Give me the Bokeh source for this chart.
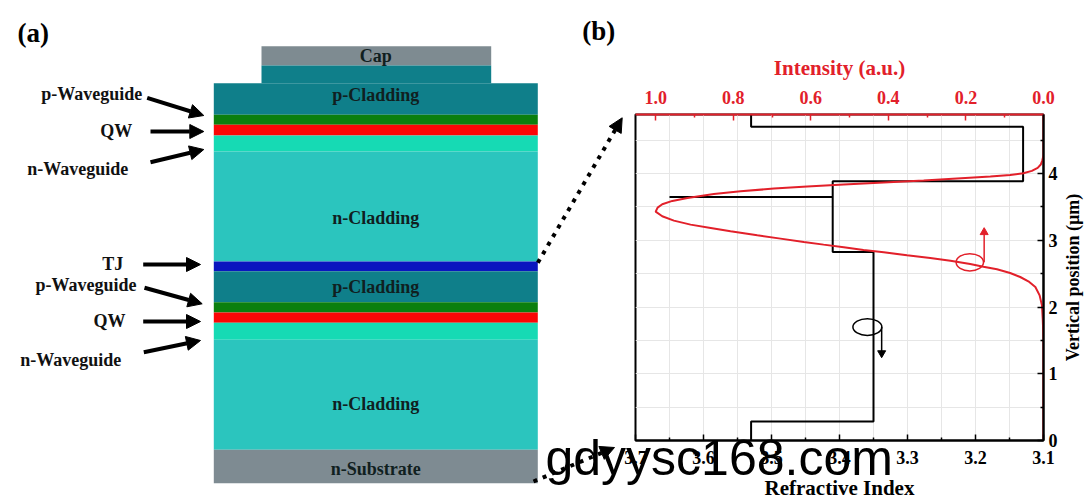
import math
from bokeh.plotting import figure
from bokeh.models import (Range1d, LinearAxis, FixedTicker, PrintfTickFormatter,
                          Arrow, NormalHead)
from bokeh.core.properties import value
from bokeh.embed import file_html
from bokeh.resources import INLINE

# ---------------- data: (a) layer stack, top to bottom ----------------
layer_names = ["Cap", "p-Cladding (ridge)", "p-Cladding", "p-Waveguide", "QW",
               "n-Waveguide", "n-Cladding", "TJ", "p-Cladding", "p-Waveguide",
               "QW", "n-Waveguide", "n-Cladding", "n-Substrate"]
layer_thickness = [19.3, 17.7, 31.6, 10.0, 10.7, 16.0, 110.0, 9.7, 31.0, 10.3,
                   10.3, 17.0, 110.0, 33.4]
layer_is_ridge = [True, True, False, False, False, False, False, False, False,
                  False, False, False, False, False]
layer_colors = ["#7e8b91", "#0f7f8a", "#0f7f8a", "#0b7f0e", "#fb0606", "#16dab4",
                "#2bc5be", "#0a16bf", "#0f7f8a", "#0b7f0e", "#fb0606", "#16dab4",
                "#2bc5be", "#7e8b92"]
layer_labels = ["Cap", "p-Cladding", "n-Cladding", "p-Cladding", "n-Cladding", "n-Substrate"]
side_labels = ["p-Waveguide", "QW", "n-Waveguide", "TJ", "p-Waveguide", "QW", "n-Waveguide"]

# ---------------- data: (b) refractive index profile ----------------
index_n = [3.53, 3.53, 3.35, 3.35, 3.41, 3.41, 3.65, 3.41, 3.41, 3.13, 3.13, 3.53, 3.53]
index_pos = [0.0, 0.285, 0.285, 2.825, 2.825, 3.65, 3.65, 3.65, 3.885, 3.885, 4.70, 4.70, 4.95]

# ---------------- data: (b) optical intensity profile ----------------
intensity = [0.0, 0.0, 0.002, 0.004, 0.010, 0.021, 0.039, 0.060, 0.086, 0.120, 0.155,
             0.189, 0.240, 0.292, 0.352, 0.412, 0.464, 0.515, 0.567, 0.618, 0.678,
             0.738, 0.807, 0.858, 0.910, 0.953, 0.983, 1.0, 0.995, 0.983, 0.957,
             0.918, 0.850, 0.781, 0.695, 0.609, 0.515, 0.412, 0.309, 0.223, 0.137,
             0.086, 0.052, 0.030, 0.015, 0.007, 0.003, 0.0, 0.0]
intensity_pos = [0.0, 1.525, 1.825, 2.025, 2.175, 2.30, 2.385, 2.45, 2.51, 2.565, 2.605,
                 2.645, 2.695, 2.735, 2.775, 2.82, 2.855, 2.895, 2.935, 2.975, 3.025,
                 3.075, 3.135, 3.185, 3.235, 3.295, 3.36, 3.43, 3.49, 3.54, 3.59,
                 3.635, 3.695, 3.735, 3.775, 3.805, 3.835, 3.865, 3.895, 3.925, 3.955,
                 3.98, 4.005, 4.04, 4.085, 4.135, 4.20, 4.275, 4.885]

# tick labels
index_ticks = [3.1, 3.2, 3.3, 3.4, 3.5, 3.6, 3.7]
index_minor = [3.15, 3.25, 3.35, 3.45, 3.55, 3.65]
intensity_ticks = [0.0, 0.2, 0.4, 0.6, 0.8, 1.0]
intensity_minor = [0.1, 0.3, 0.5, 0.7, 0.9]
pos_ticks = [0, 1, 2, 3, 4]
pos_minor = [0.5, 1.5, 2.5, 3.5, 4.5]

RED = "#e2202a"
SERIF = "Liberation Serif"
WATERMARK = "gdyysc168.com"

# =================== page canvas with panel (a) ===================
W, H = 1085, 503
p1 = figure(width=W, height=H, x_range=Range1d(0, W), y_range=Range1d(H, 0),
            x_axis_location=None, y_axis_location=None, min_border=0,
            toolbar_location=None, output_backend="svg")
p1.grid.visible = False
p1.outline_line_color = None
p1.background_fill_color = "white"
p1.border_fill_color = "white"

full_left, full_right = 213.3, 537.3
ridge_left, ridge_right = 261.0, 490.7
top0 = 45.7
tops, bottoms, lefts, rights = [], [], [], []
yy = top0
for t, ridge in zip(layer_thickness, layer_is_ridge):
    tops.append(yy)
    bottoms.append(yy + t)
    lefts.append(ridge_left if ridge else full_left)
    rights.append(ridge_right if ridge else full_right)
    yy += t
p1.quad(left=lefts, right=rights, top=tops, bottom=bottoms,
        fill_color=layer_colors, line_color=None)

p1.text(x=[375.3] * len(layer_labels), y=[55.7, 94, 217, 286.7, 403.3, 468.3],
        text=layer_labels, text_font=value(SERIF), text_font_style="bold",
        text_font_size="18px", text_color="#10201f", text_align="center",
        text_baseline="middle")

p1.text(x=[141.7, 131.7, 127.7, 122.7, 136, 125, 120.7],
        y=[93.3, 130, 168.3, 263.3, 284.3, 320, 359],
        text=side_labels, text_font=value(SERIF), text_font_style="bold",
        text_font_size="18px", text_color="#111111", text_align="right",
        text_baseline="middle")

arrow_geom = [((146.7, 97.3), (203.3, 115)), ((150, 131), (203.3, 131)),
              ((150, 161.7), (203.3, 149)), ((142.7, 264), (200, 264)),
              ((144, 287.3), (201.7, 303.3)), ((142.7, 321), (200, 321)),
              ((143.3, 351.7), (200, 340))]
for (xs, ys), (xe, ye) in arrow_geom:
    p1.add_layout(Arrow(x_start=xs, y_start=ys, x_end=xe, y_end=ye,
                        line_width=4, line_color="black",
                        end=NormalHead(size=14, fill_color="black",
                                       line_color="black", line_width=1)))

for (xs, ys), (xe, ye) in [((537.3, 262.3), (621.7, 117.3)), ((533, 481), (614, 447))]:
    p1.add_layout(Arrow(x_start=xs, y_start=ys, x_end=xe, y_end=ye,
                        line_width=4, line_color="black", line_dash="4 6",
                        end=NormalHead(size=14, fill_color="black",
                                       line_color="black", line_width=1)))

p1.text(x=[17, 581.7], y=[32, 30], text=["(a)", "(b)"], text_font=value(SERIF),
        text_font_style="bold", text_font_size="27px", text_color="black",
        text_align="left", text_baseline="middle")

# right axis title of panel (b), reading bottom-to-top
p1.text(x=[1072], y=[277], text=["Vertical position (\u00b5m)"], text_font=value(SERIF),
        text_font_style="bold", text_font_size="18px", text_color="black",
        text_align="center", text_baseline="middle", angle=math.pi / 2)

p1.text(x=[545], y=[457], text=[WATERMARK], text_font=value("Liberation Sans"),
        text_font_size="50px", text_color="black", text_align="left",
        text_baseline="middle")

# =================== panel (b): profiles (overlaid, transparent) ===================
X2 = 620
p2 = figure(width=W - X2, height=H, x_range=Range1d(3.7, 3.1), y_range=Range1d(0, 4.885),
            y_axis_location="right", toolbar_location=None, output_backend="svg",
            min_border_left=15, min_border_right=42, min_border_top=114,
            min_border_bottom=63)
p2.styles = {"position": "absolute", "left": f"{X2}px", "top": "0px", "z-index": "1"}
p2.background_fill_color = None
p2.border_fill_color = None
p2.outline_line_color = "black"
p2.outline_line_width = 2
p2.extra_x_ranges = {"intensity": Range1d(1.052, 0)}


def style_axis(ax, color, ticks, minor, fmt, standoff, title_standoff=8):
    ax.ticker = FixedTicker(ticks=ticks, minor_ticks=minor)
    ax.formatter = PrintfTickFormatter(format=fmt)
    ax.axis_line_color = color
    ax.axis_line_width = 2
    ax.major_tick_line_color = color
    ax.minor_tick_line_color = color
    ax.major_tick_line_width = 1.5
    ax.minor_tick_line_width = 1.5
    ax.major_tick_in = 6
    ax.major_tick_out = 0
    ax.minor_tick_in = 3
    ax.minor_tick_out = 0
    ax.major_label_text_font = SERIF
    ax.major_label_text_font_style = "bold"
    ax.major_label_text_font_size = "18px"
    ax.major_label_text_color = color
    ax.major_label_standoff = standoff
    ax.axis_label_text_font = SERIF
    ax.axis_label_text_font_style = "bold"
    ax.axis_label_text_font_size = "21px"
    ax.axis_label_text_color = color
    ax.axis_label_standoff = title_standoff


xb = p2.xaxis[0]
style_axis(xb, "black", index_ticks, index_minor, "%.1f", 10, 9)
xb.axis_label = "Refractive Index"
yr = p2.yaxis[0]
style_axis(yr, "black", pos_ticks, pos_minor, "%d", 5)

top = LinearAxis(x_range_name="intensity", axis_label="Intensity (a.u.)")
style_axis(top, RED, intensity_ticks, intensity_minor, "%.1f", 11, 8)
p2.add_layout(top, "above")

grid_color = "#e6e6e6"
p2.xgrid.ticker = xb.ticker
p2.ygrid.ticker = yr.ticker
p2.grid.grid_line_color = grid_color
p2.grid.minor_grid_line_color = grid_color
p2.grid.grid_line_width = 1
p2.grid.minor_grid_line_width = 1

p2.line(index_n, index_pos, line_color="black", line_width=2)
p2.line(intensity, intensity_pos, x_range_name="intensity", line_color=RED, line_width=2)

# curve markers: ellipse + arrow pointing to each curve's axis
p2.ellipse(x=[0.19], y=[2.67], width=[0.0705], height=[0.26], x_range_name="intensity",
           fill_color=None, line_color=RED, line_width=1.5)
p2.segment(x0=[0.153], y0=[2.67], x1=[0.153], y1=[3.10], x_range_name="intensity",
           line_color=RED, line_width=1.5)
p2.scatter(x=[0.153], y=[3.12], marker="triangle", size=8, x_range_name="intensity",
           fill_color=RED, line_color=RED)

p2.ellipse(x=[3.359], y=[1.70], width=[0.0426], height=[0.25],
           fill_color=None, line_color="black", line_width=1.5)
p2.segment(x0=[3.338], y0=[1.70], x1=[3.338], y1=[1.33],
           line_color="black", line_width=1.5)
p2.scatter(x=[3.338], y=[1.31], marker="inverted_triangle", size=8,
           fill_color="black", line_color="black")

open("out.html", "w").write(file_html([p1, p2], INLINE))
